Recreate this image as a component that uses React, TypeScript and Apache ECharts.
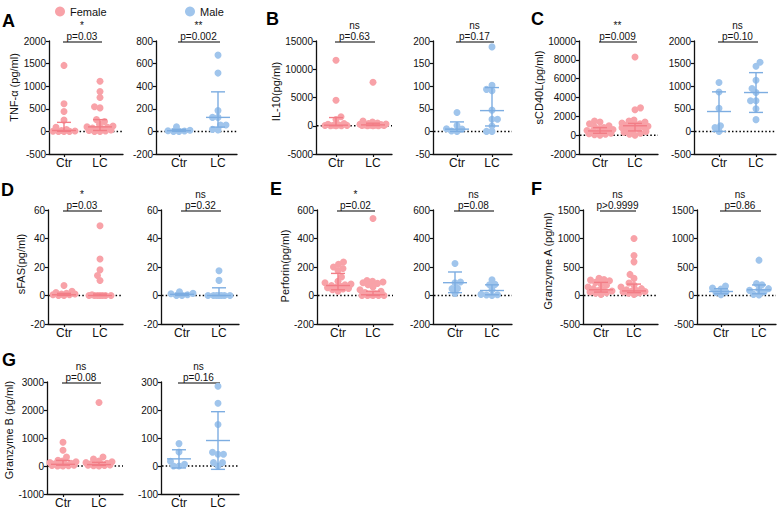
import React, { useEffect, useRef } from "react";
import * as echarts from "echarts";

const FONT = "'Liberation Sans', Arial, Helvetica, sans-serif";
const groups = ["Ctr", "LC"];
const sexes = ["Female", "Male"];

// TNF-α
const tnfFemaleCtr = [1460, 610, 440, 250, 90, 40, 20, 10, 5, 0, 0, 0];
const tnfFemaleLC = [1110, 880, 750, 545, 520, 260, 220, 160, 120, 100, 90, 75, 60, 45, 30, 20, 10, 0, 0];
const tnfMaleCtr = [40, 10, 6, 3, 0, 0];
const tnfMaleLC = [675, 516, 184, 124, 124, 57, 57, 18, 13];
const tnfFemaleSpread = [[0, 20, 200], [20, 100, 260]]; // [low, centre, high] per group
const tnfMaleSpread = [[0, 6, 18], [38, 124, 350]];
const tnfFemaleAxis = [-500, 2000, 500];
const tnfMaleAxis = [-200, 800, 200];
const tnfP = ["p=0.03", "p=0.002"];
const tnfMarks = ["*", "**"];

// IL-10
const il10FemaleCtr = [11600, 4500, 1600, 1100, 400, 250, 150, 100, 60, 30, 10, 0, 0];
const il10FemaleLC = [7700, 850, 650, 500, 400, 300, 250, 200, 150, 100, 80, 50, 30, 10, 0, 0];
const il10MaleCtr = [42, 13, 6, 5, 1, 0];
const il10MaleLC = [187, 102, 93, 90, 47, 27, 27, 12, 0, 0];
const il10FemaleSpread = [[0, 100, 1450], [30, 150, 450]];
const il10MaleSpread = [[0, 5, 21], [12, 46, 97]];
const il10FemaleAxis = [-5000, 15000, 5000];
const il10MaleAxis = [-50, 200, 50];
const il10P = ["p=0.63", "p=0.17"];
const il10Marks = ["ns", "ns"];

// sCD40L
const cd40FemaleCtr = [1500, 1400, 1200, 1000, 900, 800, 700, 600, 500, 450, 400, 300, 250, 200, 150, 100, 50, 0];
const cd40FemaleLC = [8300, 2900, 2700, 1600, 1500, 1400, 1300, 1200, 1100, 1050, 1000, 950, 900, 800, 700, 600, 500, 400, 300, 200, 100, 0];
const cd40MaleCtr = [1080, 870, 510, 125, 88, 0];
const cd40MaleLC = [1530, 1440, 1130, 950, 860, 680, 680, 500, 260];
const cd40FemaleSpread = [[200, 450, 800], [450, 1000, 1250]];
const cd40MaleSpread = [[0, 440, 875], [420, 860, 1300]];
const cd40FemaleAxis = [-2000, 10000, 2000];
const cd40MaleAxis = [-500, 2000, 500];
const cd40P = ["p=0.009", "p=0.10"];
const cd40Marks = ["**", "ns"];

// sFAS
const sfasFemaleCtr = [7, 3, 2, 1.5, 1, 1, 0.5, 0.5, 0, 0];
const sfasFemaleLC = [49, 25.6, 18, 14, 10.5, 0.5, 0, 0, 0, 0, 0, 0, 0];
const sfasMaleCtr = [2.6, 1.5, 1.2, 0.5, 0, 0];
const sfasMaleLC = [17.4, 10.6, 0, 0, 0, 0, 0, 0, 0];
const sfasFemaleSpread = [[0, 0.5, 1.5], [0, 0, 1]];
const sfasMaleSpread = [[0, 0.8, 1.5], [0, 0, 5.4]];
const sfasFemaleAxis = [-20, 60, 20];
const sfasMaleAxis = [-20, 60, 20];
const sfasP = ["p=0.03", "p=0.32"];
const sfasMarks = ["*", "ns"];

// Perforin
const perfFemaleCtr = [235, 219, 200, 190, 175, 130, 100, 90, 80, 75, 70, 65, 60, 55, 50, 45, 40, 30];
const perfFemaleLC = [540, 105, 100, 95, 90, 85, 75, 60, 40, 30, 20, 10, 5, 0, 0, 0, 0, 0];
const perfMaleCtr = [225, 95, 90, 50, 48, 15];
const perfMaleLC = [110, 78, 75, 40, 8, 5, 3, 0];
const perfFemaleSpread = [[40, 70, 155], [0, 5, 30]];
const perfMaleSpread = [[20, 90, 165], [5, 35, 75]];
const perfFemaleAxis = [-200, 600, 200];
const perfMaleAxis = [-200, 600, 200];
const perfP = ["p=0.02", "p=0.08"];
const perfMarks = ["*", "ns"];

// Granzyme A
const gzaFemaleCtr = [300, 280, 270, 260, 230, 200, 180, 150, 120, 100, 90, 80, 60, 50, 40, 20];
const gzaFemaleLC = [1000, 700, 590, 370, 300, 220, 180, 150, 120, 100, 90, 80, 70, 60, 50, 40, 20];
const gzaMaleCtr = [166, 130, 113, 60, 53, 12];
const gzaMaleLC = [620, 210, 190, 120, 110, 90, 60, 20, 10];
const gzaFemaleSpread = [[60, 100, 230], [50, 80, 200]];
const gzaMaleSpread = [[30, 70, 120], [30, 100, 185]];
const gzaFemaleAxis = [-500, 1500, 500];
const gzaMaleAxis = [-500, 1500, 500];
const gzaP = ["p>0.9999", "p=0.86"];
const gzaMarks = ["ns", "ns"];

// Granzyme B
const gzbFemaleCtr = [850, 565, 320, 200, 180, 150, 120, 100, 80, 60, 40, 30, 20, 10, 0, 0];
const gzbFemaleLC = [2270, 320, 250, 180, 150, 120, 100, 80, 60, 50, 40, 30, 20, 10, 0];
const gzbMaleCtr = [80, 50, 17, 6, 0, 0];
const gzbMaleLC = [285, 224, 148, 49, 42, 42, 12, 12, 0];
const gzbFemaleSpread = [[30, 60, 200], [20, 50, 130]];
const gzbMaleSpread = [[-7, 25.5, 58], [-12, 91, 194]];
const gzbFemaleAxis = [-1000, 3000, 1000];
const gzbMaleAxis = [-100, 300, 100];
const gzbP = ["p=0.08", "p=0.16"];
const gzbMarks = ["ns", "ns"];

type Sub = { groups: number[][]; spread: number[][]; axis: number[]; p: string; mark: string };
type Panel = { letter: string; title: string; subs: Sub[] };

const panels: Panel[] = [
  { letter: "A", title: "TNF-α (pg/ml)", subs: [
    { groups: [tnfFemaleCtr, tnfFemaleLC], spread: tnfFemaleSpread, axis: tnfFemaleAxis, p: tnfP[0], mark: tnfMarks[0] },
    { groups: [tnfMaleCtr, tnfMaleLC], spread: tnfMaleSpread, axis: tnfMaleAxis, p: tnfP[1], mark: tnfMarks[1] },
  ] },
  { letter: "B", title: "IL-10(pg/ml)", subs: [
    { groups: [il10FemaleCtr, il10FemaleLC], spread: il10FemaleSpread, axis: il10FemaleAxis, p: il10P[0], mark: il10Marks[0] },
    { groups: [il10MaleCtr, il10MaleLC], spread: il10MaleSpread, axis: il10MaleAxis, p: il10P[1], mark: il10Marks[1] },
  ] },
  { letter: "C", title: "sCD40L(pg/ml)", subs: [
    { groups: [cd40FemaleCtr, cd40FemaleLC], spread: cd40FemaleSpread, axis: cd40FemaleAxis, p: cd40P[0], mark: cd40Marks[0] },
    { groups: [cd40MaleCtr, cd40MaleLC], spread: cd40MaleSpread, axis: cd40MaleAxis, p: cd40P[1], mark: cd40Marks[1] },
  ] },
  { letter: "D", title: "sFAS(pg/ml)", subs: [
    { groups: [sfasFemaleCtr, sfasFemaleLC], spread: sfasFemaleSpread, axis: sfasFemaleAxis, p: sfasP[0], mark: sfasMarks[0] },
    { groups: [sfasMaleCtr, sfasMaleLC], spread: sfasMaleSpread, axis: sfasMaleAxis, p: sfasP[1], mark: sfasMarks[1] },
  ] },
  { letter: "E", title: "Perforin(pg/ml)", subs: [
    { groups: [perfFemaleCtr, perfFemaleLC], spread: perfFemaleSpread, axis: perfFemaleAxis, p: perfP[0], mark: perfMarks[0] },
    { groups: [perfMaleCtr, perfMaleLC], spread: perfMaleSpread, axis: perfMaleAxis, p: perfP[1], mark: perfMarks[1] },
  ] },
  { letter: "F", title: "Granzyme A (pg/ml)", subs: [
    { groups: [gzaFemaleCtr, gzaFemaleLC], spread: gzaFemaleSpread, axis: gzaFemaleAxis, p: gzaP[0], mark: gzaMarks[0] },
    { groups: [gzaMaleCtr, gzaMaleLC], spread: gzaMaleSpread, axis: gzaMaleAxis, p: gzaP[1], mark: gzaMarks[1] },
  ] },
  { letter: "G", title: "Granzyme B (pg/ml)", subs: [
    { groups: [gzbFemaleCtr, gzbFemaleLC], spread: gzbFemaleSpread, axis: gzbFemaleAxis, p: gzbP[0], mark: gzbMarks[0] },
    { groups: [gzbMaleCtr, gzbMaleLC], spread: gzbMaleSpread, axis: gzbMaleAxis, p: gzbP[1], mark: gzbMarks[1] },
  ] },
];

// Page layout: vertical extent of each row, and per panel the letter position,
// the y-title placement and each plot's [axis x, Ctr x, LC x, right end] in px.
const ROWS = [
  { top: 41, bottom: 154 },
  { top: 210, bottom: 324 },
  { top: 382, bottom: 494 },
];
const LAYOUT: Record<string, { row: number; letter: number[]; nameGap: number; nameShift: number; frames: number[][] }> = {
  A: { row: 0, letter: [2, 21], nameGap: 30, nameShift: 10, frames: [[49, 64, 100, 123], [156, 179, 218, 237]] },
  B: { row: 0, letter: [266, 19], nameGap: 34, nameShift: 6, frames: [[316, 336, 373, 392], [433, 457, 492, 512]] },
  C: { row: 0, letter: [531, 19], nameGap: 29, nameShift: 10, frames: [[579, 600, 635, 658], [694, 719, 756, 776]] },
  D: { row: 1, letter: [1, 190], nameGap: 19, nameShift: 3, frames: [[48, 64, 100, 123], [161, 182, 219, 239]] },
  E: { row: 1, letter: [270, 189], nameGap: 25, nameShift: 1, frames: [[317, 338, 373, 393], [433, 455, 492, 512]] },
  F: { row: 1, letter: [531, 189], nameGap: 28, nameShift: 6, frames: [[583, 601, 634, 658], [697, 721, 759, 776]] },
  G: { row: 2, letter: [2, 360], nameGap: 30, nameShift: 8, frames: [[47, 63, 99, 123], [161, 179, 218, 239]] },
};

const POINT = ["#F8A2A8", "#A0C5EC"];
const BAR = ["#F27D86", "#7DADE1"];
const INK = "#111";

// Deterministic beeswarm: spreads points sideways (in px) so dots of close value do not pile up.
function swarm(values: number[], pxPerUnitY: number): number[] {
  const D = 5.4, MAX = 13, STEP = 0.5;
  const order = values.map((_, i) => i).sort((a, b) => values[a] - values[b]);
  const placed: number[][] = [];
  const offs = new Array(values.length).fill(0);
  order.forEach((i, n) => {
    const y = values[i] * pxPerUnitY;
    const sign = n % 2 === 0 ? 1 : -1;
    let chosen: number | null = null;
    let bestOff = 0, bestD = -1;
    for (let k = 0; k * STEP <= MAX && chosen === null; k++) {
      const cands = k === 0 ? [0] : [sign * k * STEP, -sign * k * STEP];
      for (const c of cands) {
        let md = Infinity;
        for (const [px, py] of placed) md = Math.min(md, Math.hypot(c - px, y - py));
        if (md >= D) { chosen = c; break; }
        if (md > bestD) { bestD = md; bestOff = c; }
      }
    }
    const off = chosen ?? bestOff;
    placed.push([off, y]);
    offs[i] = off;
  });
  return offs;
}

function buildOption() {
  const grid: any[] = [];
  const xAxis: any[] = [];
  const yAxis: any[] = [];
  const series: any[] = [];
  const graphic: any[] = [];

  panels.forEach((panel) => {
    const lay = LAYOUT[panel.letter];
    const row = ROWS[lay.row];
    graphic.push({
      type: "text",
      x: lay.letter[0],
      y: lay.letter[1],
      style: { text: panel.letter, fontFamily: FONT, fontSize: 18, fontWeight: "bold", fill: "#000", verticalAlign: "middle" },
    });

    panel.subs.forEach((sub, k) => {
      const idx = grid.length;
      const [left, cx, lx, right] = lay.frames[k];
      const s = lx - cx;
      const xmin = -(cx - left) / s;
      const xmax = xmin + (right - left) / s;
      const height = row.bottom - row.top;
      const [ymin, ymax, step] = sub.axis;
      const pxPerUnitY = height / (ymax - ymin);

      grid.push({ left, top: row.top, width: right - left, height });
      xAxis.push({
        gridIndex: idx,
        type: "value",
        min: xmin,
        max: xmax,
        splitLine: { show: false },
        axisLine: { show: true, onZero: false, lineStyle: { color: INK, width: 1.3 } },
        axisTick: { show: true, customValues: [0, 1], length: 3, lineStyle: { color: INK, width: 1.2 } },
        axisLabel: {
          customValues: [0, 1],
          formatter: (v: number) => groups[Math.round(v)],
          fontFamily: FONT,
          fontSize: 12,
          color: INK,
          margin: 3,
        },
      });
      yAxis.push({
        gridIndex: idx,
        type: "value",
        min: ymin,
        max: ymax,
        interval: step,
        name: k === 0 ? panel.title : "",
        nameLocation: "middle",
        nameGap: lay.nameGap,
        nameTextStyle: { fontFamily: FONT, fontSize: 11, color: INK, padding: [0, 0, 0, lay.nameShift * 2] },
        splitLine: { show: false },
        axisLine: { show: true, onZero: false, lineStyle: { color: INK, width: 1.3 } },
        axisTick: { show: true, length: 3, lineStyle: { color: INK, width: 1.2 } },
        axisLabel: { fontFamily: FONT, fontSize: 10, color: INK, margin: 3, formatter: (v: number) => String(v) },
      });

      // zero reference line and the significance bracket above the plot
      series.push({
        type: "custom",
        xAxisIndex: idx,
        yAxisIndex: idx,
        clip: false,
        silent: true,
        z: 1,
        data: [[0, ymax]],
        renderItem: (_p: any, api: any) => {
          const z0 = api.coord([xmin, 0]);
          const z1 = api.coord([xmax, 0]);
          const a = api.coord([0, ymax]);
          const b = api.coord([1, ymax]);
          const ly = a[1] + 1;
          const mid = (a[0] + b[0]) / 2;
          return {
            type: "group",
            children: [
              { type: "line", shape: { x1: z0[0] + 1, y1: z0[1], x2: z1[0], y2: z1[1] },
                style: { stroke: "#000", lineWidth: 1.5, lineDash: [1.5, 2.2] } },
              { type: "line", shape: { x1: a[0] - 1, y1: ly, x2: b[0] + 2, y2: ly },
                style: { stroke: "#555", lineWidth: 1.3 } },
              { type: "text", style: { text: sub.p, x: mid, y: ly - 1, align: "center", verticalAlign: "bottom",
                  fontFamily: FONT, fontSize: 10, fill: INK } },
              { type: "text", style: { text: sub.mark, x: mid, y: ly - 12, align: "center", verticalAlign: "bottom",
                  fontFamily: FONT, fontSize: 10, fill: INK } },
            ],
          };
        },
      });

      // individual values
      const pts: number[][] = [];
      sub.groups.forEach((vals, g) => {
        const offs = swarm(vals, pxPerUnitY);
        vals.forEach((v, i) => pts.push([g + offs[i] / s, v]));
      });
      series.push({
        type: "scatter",
        name: sexes[k],
        xAxisIndex: idx,
        yAxisIndex: idx,
        symbol: "circle",
        symbolSize: 7,
        z: 2,
        itemStyle: { color: POINT[k], opacity: 1 },
        data: pts,
      });

      // centre line with spread whiskers
      series.push({
        type: "custom",
        xAxisIndex: idx,
        yAxisIndex: idx,
        clip: false,
        silent: true,
        z: 3,
        data: sub.spread.map((b, g) => [g, b[0], b[1], b[2]]),
        renderItem: (_p: any, api: any) => {
          const g = api.value(0);
          const lo = api.coord([g, api.value(1)]);
          const c = api.coord([g, api.value(2)]);
          const hi = api.coord([g, api.value(3)]);
          const st = { stroke: BAR[k], lineWidth: 1.4 };
          return {
            type: "group",
            children: [
              { type: "line", shape: { x1: c[0], y1: lo[1], x2: c[0], y2: hi[1] }, style: st },
              { type: "line", shape: { x1: c[0] - 12, y1: c[1], x2: c[0] + 12, y2: c[1] }, style: st },
              { type: "line", shape: { x1: c[0] - 7, y1: hi[1], x2: c[0] + 7, y2: hi[1] }, style: st },
              { type: "line", shape: { x1: c[0] - 7, y1: lo[1], x2: c[0] + 7, y2: lo[1] }, style: st },
            ],
          };
        },
      });
    });
  });

  return {
    animation: false,
    backgroundColor: "#fff",
    legend: [
      { data: ["Female"], left: 50, top: 1, icon: "circle", itemWidth: 10, itemHeight: 10, itemGap: 5,
        selectedMode: false, textStyle: { fontFamily: FONT, fontSize: 11, color: INK } },
      { data: ["Male"], left: 180, top: 1, icon: "circle", itemWidth: 10, itemHeight: 10, itemGap: 5,
        selectedMode: false, textStyle: { fontFamily: FONT, fontSize: 11, color: INK } },
    ],
    grid,
    xAxis,
    yAxis,
    series,
    graphic,
  };
}

export default function App() {
  const ref = useRef<HTMLDivElement>(null);
  useEffect(() => {
    if (!ref.current) return;
    const chart = echarts.init(ref.current, null, { renderer: "svg" });
    chart.setOption(buildOption() as any);
    return () => chart.dispose();
  }, []);
  return (
    <div
      ref={ref}
      style={{ position: "fixed", left: 0, top: 0, width: 779, height: 509, background: "#fff" }}
    />
  );
}
